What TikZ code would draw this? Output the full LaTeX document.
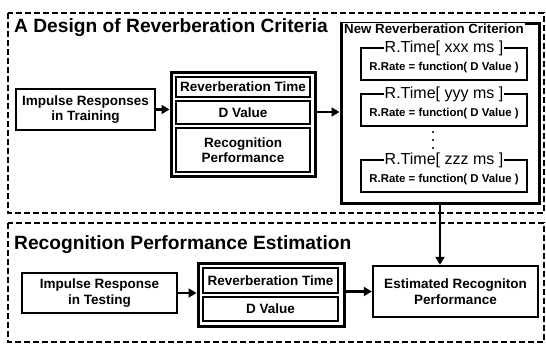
\documentclass[tikz,border=0pt]{standalone}
\usepackage{fontspec}
\setmainfont{Liberation Sans}
\usetikzlibrary{arrows.meta}
\begin{document}
\begin{tikzpicture}[x=1pt,y=-1pt,
  frame/.style={draw, line width=2.4pt, dash pattern=on 6pt off 3pt},
  box/.style={draw, line width=2.4pt, inner sep=0pt, align=center, font=\fontsize{13.5}{15.5}\selectfont\bfseries},
  grp/.style={draw, line width=3pt, inner sep=0pt},
  sub/.style={draw, line width=2.6pt, inner sep=0pt, minimum width=166pt, minimum height=32pt},
  subtitle/.style={fill=white, inner sep=1pt, anchor=base, font=\fontsize{16}{18}\selectfont},
  subline/.style={inner sep=0pt, font=\fontsize{11.4}{13}\selectfont\bfseries},
  ttl/.style={anchor=base west, inner sep=0pt, font=\fontsize{19.2}{22}\selectfont\bfseries},
  arr/.style={line width=2.4pt, -{Triangle[length=8pt,width=9pt]}}]
\useasboundingbox (0,0) rectangle (546,345);
% frames
\draw[frame] (8,13) rectangle (544,213);
\draw[frame] (8,223) rectangle (544,342);
\node[ttl] (t1) at (14,33) {A Design of Reverberation Criteria};
\node[ttl] (t2) at (14,249) {Recognition Performance Estimation};
% top section
\node[box, minimum width=139pt, minimum height=41pt] (imp) at (85.5,109.5) {Impulse Responses\\in Training};
\node[grp, minimum width=144pt, minimum height=103pt] (g1) at (243,124.5) {};
\node[box, minimum width=134pt, minimum height=20pt] (rt1) at (243,87) {Reverberation Time};
\node[box, minimum width=134pt, minimum height=23pt] (dv1) at (243,112.5) {D Value};
\node[box, minimum width=134pt, minimum height=44pt] (rp1) at (243,150) {Recognition\\Performance};
% new criterion
\node[grp, minimum width=198pt, minimum height=179pt] (ncr) at (440,113.5) {};
\node[fill=white, inner sep=1pt, anchor=base west, font=\fontsize{13.3}{15}\selectfont\bfseries] (ncrt) at (343,34) {New Reverberation Criterion};
\node[sub] (s1) at (444,64) {};
\node[subtitle] (s1t) at ([yshift=-5.5pt]s1.north) {R.Time[ xxx ms ]};
\node[subline] (s1l) at (444,68) {R.Rate = function( D Value )};
\node[sub] (s2) at (444,110) {};
\node[subtitle] (s2t) at ([yshift=-5.5pt]s2.north) {R.Time[ yyy ms ]};
\node[subline] (s2l) at (444,114) {R.Rate = function( D Value )};
\node[sub] (s3) at (444,176) {};
\node[subtitle] (s3t) at ([yshift=-5.5pt]s3.north) {R.Time[ zzz ms ]};
\node[subline] (s3l) at (444,180) {R.Rate = function( D Value )};
\fill (433,132) circle (1.2pt) (433,140) circle (1.2pt) (433,148) circle (1.2pt);
% bottom section
\node[box, minimum width=155pt, minimum height=40pt] (imt) at (99.5,293) {Impulse Response\\in Testing};
\node[grp, minimum width=146pt, minimum height=63pt] (g2) at (271,294.5) {};
\node[box, minimum width=135pt, minimum height=25pt] (rt2) at (270.5,280.5) {Reverberation Time};
\node[box, minimum width=135pt, minimum height=24pt] (dv2) at (270.5,309) {D Value};
\node[box, minimum width=165pt, minimum height=51pt] (est) at (455.5,291.5) {Estimated Recogniton\\Performance};
% arrows
\draw[arr] (imp.east) -- (g1.west |- imp.east);
\draw[arr] (g1.east |- 0,112) -- (ncr.west |- 0,112);
\draw[arr] (ncr.south) -- (ncr.south |- est.north);
\draw[arr] (imt.east) -- (g2.west |- imt.east);
\draw[arr] (g2.east |- est.west) -- (est.west);
\end{tikzpicture}
\end{document}
